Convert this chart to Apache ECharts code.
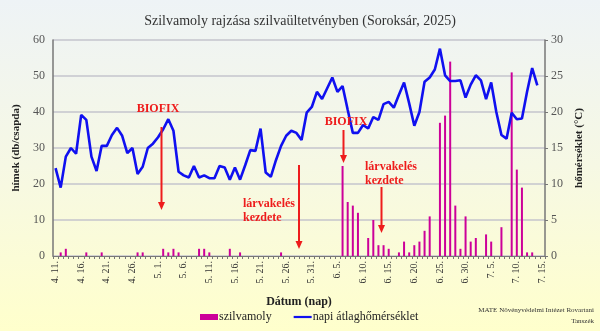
<!DOCTYPE html>
<html><head><meta charset="utf-8">
<script src="https://cdn.jsdelivr.net/npm/echarts@6/dist/echarts.min.js"></script>
<style>html,body{margin:0;padding:0;background:#fff}#c{width:600px;height:331px}</style>
</head><body><div id="c"></div>
<script>
const categories = [
 '4. 11.','4. 12.','4. 13.','4. 14.','4. 15.','4. 16.','4. 17.','4. 18.','4. 19.','4. 20.',
 '4. 21.','4. 22.','4. 23.','4. 24.','4. 25.','4. 26.','4. 27.','4. 28.','4. 29.','4. 30.',
 '5. 1.','5. 2.','5. 3.','5. 4.','5. 5.','5. 6.','5. 7.','5. 8.','5. 9.','5. 10.',
 '5. 11.','5. 12.','5. 13.','5. 14.','5. 15.','5. 16.','5. 17.','5. 18.','5. 19.','5. 20.',
 '5. 21.','5. 22.','5. 23.','5. 24.','5. 25.','5. 26.','5. 27.','5. 28.','5. 29.','5. 30.',
 '5. 31.','6. 1.','6. 2.','6. 3.','6. 4.','6. 5.','6. 6.','6. 7.','6. 8.','6. 9.',
 '6. 10.','6. 11.','6. 12.','6. 13.','6. 14.','6. 15.','6. 16.','6. 17.','6. 18.','6. 19.',
 '6. 20.','6. 21.','6. 22.','6. 23.','6. 24.','6. 25.','6. 26.','6. 27.','6. 28.','6. 29.',
 '6. 30.','7. 1.','7. 2.','7. 3.','7. 4.','7. 5.','7. 6.','7. 7.','7. 8.','7. 9.',
 '7. 10.','7. 11.','7. 12.','7. 13.','7. 14.','7. 15.'
];
const mothCounts = [
 0,1,2,0,0,0,1,0,0,1,
 0,0,0,0,0,0,1,1,0,0,
 0,2,1,2,1,0,0,0,2,2,
 1,0,0,0,2,0,1,0,0,0,
 0,0,0,0,1,0,0,0,0,0,
 0,0,0,0,0,0,25,15,14,12,
 0,5,10,3,3,2,0,1,4,1,
 3,4,7,11,0,37,39,54,14,2,
 11,4,5,0,6,4,0,8,0,51,
 24,19,1,1,0,0
];
const dailyTemp = [
 12.2,9.5,13.8,15.0,14.2,19.6,18.9,13.8,11.8,15.3,
 15.3,16.8,17.8,16.7,14.3,15.0,11.4,12.4,15.0,15.6,
 16.5,17.6,19.0,17.4,11.7,11.2,10.9,12.5,10.9,11.2,
 10.8,10.8,12.5,12.3,10.6,12.3,10.6,12.6,14.7,14.6,
 17.7,11.6,11.0,13.3,15.3,16.7,17.4,17.1,16.1,19.9,
 20.7,22.8,21.8,23.3,24.8,22.8,23.6,20.3,17.1,17.1,
 18.2,17.7,19.3,18.9,21.1,21.4,20.6,22.4,24.1,21.2,
 18.1,20.0,24.2,24.8,25.9,28.8,25.1,24.3,24.3,24.4,
 22.0,23.8,25.1,24.4,21.8,24.1,20.0,16.8,16.3,19.9,
 19.0,19.1,22.8,26.1,23.7,null
];
const countTicks = [0,10,20,30,40,50,60];
const tempTicks = [0,5,10,15,20,25,30];

const SERIF = '"Liberation Serif", "DejaVu Serif", serif';
const RED = '#EE1C1C';

function arrow(x, y1, y2) {
  return [
    {type:'line', shape:{x1:x, y1:y1, x2:x, y2:y2-7}, style:{stroke:RED, lineWidth:2}, z:50},
    {type:'polygon', shape:{points:[[x-3.5,y2-8],[x+3.5,y2-8],[x,y2]]}, style:{fill:RED}, z:50}
  ];
}
function redText(x, y, t, align) {
  return {type:'text', x:x, y:y, z:50, style:{text:t, fill:RED, font:'bold 12px '+SERIF, textAlign:align||'center', textVerticalAlign:'middle'}};
}

const chart = echarts.init(document.getElementById('c'), null, {renderer:'canvas'});
chart.setOption({
  animation:false,
  backgroundColor:{type:'linear', x:0, y:0, x2:0, y2:1, colorStops:[
    {offset:0, color:'#EEF3F6'}, {offset:0.5, color:'#F6F8E4'}, {offset:1, color:'#FFFFCC'}]},
  title:{text:'Szilvamoly rajzása szilvaültetvényben (Soroksár, 2025)', left:'center', top:9,
    textStyle:{fontFamily:SERIF, fontSize:14, fontWeight:'normal', color:'#333'}},
  grid:{left:53, right:55, top:40, bottom:75},
  legend:{left:195, top:306, itemGap:22, itemWidth:18, itemHeight:6,
    textStyle:{fontFamily:SERIF, fontSize:12, color:'#222', padding:[0,0,0,-4]},
    data:[{name:'szilvamoly', icon:'rect'},
          {name:'napi átlaghőmérséklet', icon:'path://M0,0L18,0L18,2.2L0,2.2Z'}]},
  xAxis:{type:'category', data:categories, boundaryGap:true,
    name:'Dátum (nap)', nameLocation:'middle', nameGap:40,
    nameTextStyle:{fontFamily:SERIF, fontSize:12, fontWeight:'bold', color:'#222'},
    axisLine:{lineStyle:{color:'#777', width:1}},
    axisTick:{show:true, interval:0, length:3, lineStyle:{color:'#777'}},
    axisLabel:{interval:4, rotate:90, fontFamily:SERIF, fontSize:10, color:'#333', margin:5},
    splitLine:{show:false}},
  yAxis:[
    {type:'value', min:countTicks[0], max:countTicks[countTicks.length-1], interval:10, position:'left',
     name:'hímek (db/csapda)', nameLocation:'middle', nameGap:17, nameRotate:90,
     nameTextStyle:{fontFamily:SERIF, fontSize:11, fontWeight:'bold', color:'#222'},
     axisLine:{show:true, lineStyle:{color:'#777', width:1.5}},
     axisTick:{show:false},
     axisLabel:{fontFamily:SERIF, fontSize:12, color:'#555', margin:8},
     splitLine:{show:true, lineStyle:{color:'#C4C4CC', width:1.5}}},
    {type:'value', min:tempTicks[0], max:tempTicks[tempTicks.length-1], interval:5, position:'right',
     name:'hőmérséklet (°C)', nameLocation:'middle', nameGap:18, nameRotate:90,
     nameTextStyle:{fontFamily:SERIF, fontSize:11, fontWeight:'bold', color:'#222'},
     axisLine:{show:true, lineStyle:{color:'#777', width:1.5}},
     axisTick:{show:true, inside:false, length:3, lineStyle:{color:'#777'}},
     axisLabel:{fontFamily:SERIF, fontSize:12, color:'#555', margin:6},
     splitLine:{show:false}}
  ],
  series:[
    {name:'szilvamoly', type:'bar', yAxisIndex:0, data:mothCounts, barWidth:2,
     itemStyle:{color:'#CC0099'}, z:3},
    {name:'napi átlaghőmérséklet', type:'line', yAxisIndex:1, data:dailyTemp, symbol:'none',
     connectNulls:false, lineStyle:{color:'#1010F0', width:2.6}, itemStyle:{color:'#1010F0'}, z:4}
  ],
  graphic:[
    redText(158,109,'BIOFIX'), ...arrow(161.5,127,210),
    redText(243,204,'lárvakelés','left'), redText(243,218,'kezdete','left'), ...arrow(299,165,249),
    redText(346,122,'BIOFIX'), ...arrow(343.5,130,163),
    redText(365,167,'lárvakelés','left'), redText(365,181,'kezdete','left'), ...arrow(381.5,187,233),
    {type:'text', x:594, y:310, style:{text:'MATE Növényvédelmi Intézet Rovartani', fill:'#333', font:'7px '+SERIF, textAlign:'right', textVerticalAlign:'middle'}},
    {type:'text', x:594, y:321, style:{text:'Tanszék', fill:'#333', font:'7px '+SERIF, textAlign:'right', textVerticalAlign:'middle'}}
  ]
});
</script></body></html>
